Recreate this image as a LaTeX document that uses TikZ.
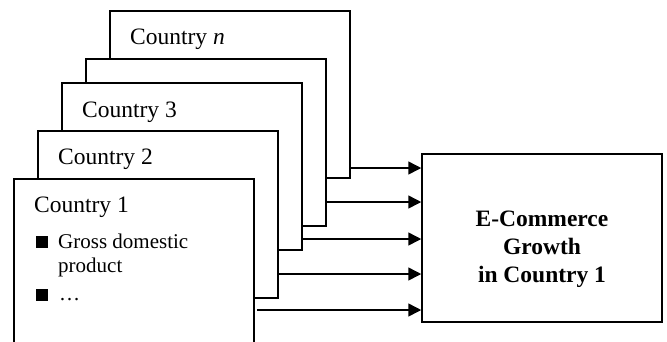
\documentclass[tikz,border=0pt]{standalone}
\usepackage{fontspec}
\setmainfont{Liberation Serif}
\usetikzlibrary{arrows.meta}
\begin{document}
\begin{tikzpicture}[x=1pt,y=-1pt,
  cbox/.style={draw=black,line width=1.5pt,fill=white,rectangle,inner sep=0pt},
  ctext/.style={anchor=base west,inner sep=0pt,font=\fontsize{23.5}{28}\selectfont},
  btext/.style={anchor=base west,inner sep=0pt,font=\fontsize{21}{24}\selectfont},
  arr/.style={draw=black,line width=1.5pt,-{Triangle[length=13pt,width=13pt]}},
  bul/.style={fill=black,inner sep=0pt,minimum size=12pt,rectangle}]
\useasboundingbox (0,0) rectangle (667,341);
\begin{scope}
\clip (0,0) rectangle (667,341);
% stacked boxes, back to front
\node[cbox,minimum width=240pt,minimum height=167pt] (bn) at (230,94.5) {};
\node[ctext] (tn) at (130,44) {Country \textit{n}};
\node[cbox,minimum width=240pt,minimum height=167pt] (b4) at (206,142.5) {};
\node[cbox,minimum width=240pt,minimum height=167pt] (b3) at (182,166.5) {};
\node[ctext] (t3) at (82,117) {Country 3};
\node[cbox,minimum width=240pt,minimum height=167pt] (b2) at (158,214.5) {};
\node[ctext] (t2) at (58,164) {Country 2};
\node[cbox,minimum width=240pt,minimum height=180pt] (b1) at (134,269) {};
\node[ctext] (t1) at (34,212) {Country 1};
\node[bul] (s1) at (41.5,241.5) {};
\node[btext] (g1) at (58,248) {Gross domestic};
\node[btext] (g2) at (58,272) {product};
\node[bul] (s2) at (41.5,294.5) {};
\node[btext] (g3) at (59,300) {\dots};
\end{scope}
% target box
\node[cbox,minimum width=240pt,minimum height=168pt] (ec) at (542,238) {};
\node[align=center,inner sep=0pt,font=\bfseries\fontsize{23.5}{28}\selectfont] (et) at (542,249) {E-Commerce\\Growth\\in Country 1};
% arrows
\draw[arr] (bn.east |- 0,168) -- (ec.west |- 0,168);
\draw[arr] (b4.east |- 0,202) -- (ec.west |- 0,202);
\draw[arr] (b3.east |- 0,239) -- (ec.west |- 0,239);
\draw[arr] (b2.east |- 0,274) -- (ec.west |- 0,274);
\draw[arr] ([xshift=2pt]b1.east |- 0,310) -- (ec.west |- 0,310);
\end{tikzpicture}
\end{document}
